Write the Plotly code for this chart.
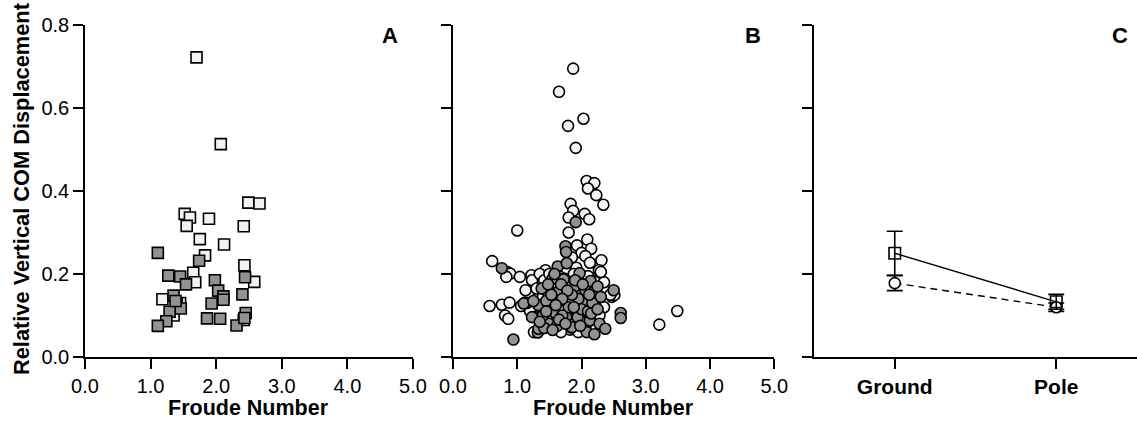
import plotly.graph_objects as go

# ---------------- Data ----------------
# Panel A (squares)
a_open_x = [1.70, 2.07, 2.49, 2.66, 1.52, 1.60, 1.55, 1.89, 2.42, 1.75, 2.12, 1.83, 2.43, 1.65, 1.68, 2.58, 1.18, 1.35, 1.45, 2.42]
a_open_y = [0.722, 0.513, 0.372, 0.370, 0.345, 0.336, 0.316, 0.333, 0.315, 0.284, 0.271, 0.245, 0.221, 0.203, 0.180, 0.181, 0.139, 0.100, 0.130, 0.089]
a_fill_x = [1.11, 1.27, 1.45, 1.54, 1.74, 1.35, 1.40, 1.46, 1.29, 1.24, 1.11, 1.98, 2.03, 2.11, 1.93, 1.86, 2.06, 2.31, 2.44, 2.40, 2.45, 2.43, 1.38, 2.11]
a_fill_y = [0.251, 0.196, 0.194, 0.175, 0.232, 0.148, 0.128, 0.117, 0.109, 0.086, 0.075, 0.185, 0.160, 0.146, 0.129, 0.093, 0.092, 0.076, 0.192, 0.151, 0.106, 0.094, 0.135, 0.138]

# Panel B (circles)
b_open_x = [1.87, 1.65, 2.03, 1.79, 1.91, 2.08, 2.20, 2.10, 2.23, 2.34, 1.83, 1.87, 1.80, 2.05, 2.12, 1.80, 1.00,
            2.09, 1.93, 2.15, 2.00, 2.06, 2.31, 2.13, 2.27, 2.28, 0.61, 0.84, 0.89, 0.83, 1.04, 1.22, 1.23, 1.13,
            1.44, 0.57, 0.76, 0.88, 0.81, 0.86, 1.06, 1.26, 3.21, 3.49, 2.47, 2.51,
            1.35, 1.42, 1.50, 1.60, 1.70, 1.80, 1.90, 1.98, 2.05, 2.15, 2.20, 2.25, 1.50, 1.40, 1.60, 1.72,
            1.82, 2.00, 2.06, 1.30, 1.55, 1.75, 1.95, 2.22, 1.45, 1.92, 1.85, 1.70, 2.35, 1.40, 2.00,
            1.30, 1.40, 1.65, 1.88, 2.10, 2.30, 2.45, 1.20, 1.15, 2.35, 2.28, 1.95, 1.68]
b_open_y = [0.695, 0.639, 0.574, 0.557, 0.504, 0.424, 0.419, 0.406, 0.390, 0.367, 0.369, 0.352, 0.336, 0.345, 0.332, 0.300, 0.305,
            0.283, 0.269, 0.261, 0.251, 0.243, 0.233, 0.227, 0.209, 0.189, 0.231, 0.205, 0.201, 0.193, 0.193, 0.197, 0.185, 0.161,
            0.209, 0.123, 0.126, 0.131, 0.100, 0.092, 0.123, 0.060, 0.078, 0.111, 0.145, 0.149,
            0.200, 0.185, 0.200, 0.140, 0.115, 0.108, 0.115, 0.125, 0.110, 0.140, 0.135, 0.150, 0.110, 0.105, 0.085, 0.070,
            0.066, 0.085, 0.070, 0.140, 0.170, 0.180, 0.180, 0.180, 0.075, 0.215, 0.240, 0.160, 0.180, 0.165, 0.150,
            0.165, 0.145, 0.195, 0.200, 0.195, 0.205, 0.150, 0.110, 0.130, 0.120, 0.100, 0.060, 0.060]
b_fill_x = [1.91, 1.75, 1.76, 0.76, 1.63, 1.77, 1.97, 1.55, 1.73, 2.14, 1.89, 1.46, 1.63, 2.06, 2.20, 2.50, 1.66, 1.12,
            1.34, 2.61, 2.61, 1.27, 1.49, 1.76, 1.94, 2.13, 2.28, 2.37, 1.32, 1.84, 2.08, 2.20, 0.94, 1.10, 1.33, 1.23,
            1.33, 1.72, 1.64, 1.67, 2.06, 1.51, 1.49, 1.85, 1.57, 1.45, 1.80, 1.95, 2.00, 1.60, 1.40, 1.85, 2.10, 1.53,
            1.70, 2.17, 1.42, 1.62,
            1.38, 1.48, 1.58, 1.68, 1.78, 1.90, 2.02, 2.25, 2.30, 1.35, 1.55, 1.65, 1.75, 1.98, 2.15, 2.25, 1.88, 1.70,
            2.12, 1.45, 1.25, 1.60]
b_fill_y = [0.325, 0.267, 0.253, 0.214, 0.218, 0.226, 0.202, 0.189, 0.189, 0.183, 0.169, 0.159, 0.157, 0.161, 0.157, 0.161, 0.138, 0.131,
            0.124, 0.106, 0.094, 0.096, 0.092, 0.096, 0.096, 0.088, 0.080, 0.068, 0.059, 0.071, 0.060, 0.055, 0.042, 0.129, 0.125, 0.096,
            0.068, 0.187, 0.157, 0.137, 0.137, 0.092, 0.080, 0.072, 0.125, 0.135, 0.120, 0.140, 0.115, 0.105, 0.100, 0.150, 0.110, 0.150,
            0.100, 0.130, 0.070, 0.075,
            0.165, 0.175, 0.200, 0.175, 0.160, 0.185, 0.175, 0.170, 0.145, 0.085, 0.065, 0.090, 0.080, 0.075, 0.105, 0.115, 0.120, 0.140,
            0.150, 0.110, 0.135, 0.125]

# Panel C (means with error bars)
c_categories = ["Ground", "Pole"]
c_square_mean = [0.250, 0.133]
c_square_err = [0.053, 0.018]
c_circle_mean = [0.178, 0.120]
c_circle_err = [0.018, 0.010]

x_ticks = [0, 1, 2, 3, 4, 5]
x_tick_labels = ["0.0", "1.0", "2.0", "3.0", "4.0", "5.0"]
y_ticks = [0, 0.2, 0.4, 0.6, 0.8]
y_tick_labels = ["0.0", "0.2", "0.4", "0.6", "0.8"]

# ---------------- Styles ----------------
FONT = "Liberation Sans, Arial, Helvetica, sans-serif"
OPEN = "#f2f2f2"
GRAY = "#929292"
mline = dict(color="black", width=1.6)

fig = go.Figure()

fig.add_trace(go.Scatter(x=a_open_x, y=a_open_y, mode="markers", xaxis="x", yaxis="y",
                         marker=dict(symbol="square", size=11, color=OPEN, line=mline), cliponaxis=False))
fig.add_trace(go.Scatter(x=a_fill_x, y=a_fill_y, mode="markers", xaxis="x", yaxis="y",
                         marker=dict(symbol="square", size=11, color=GRAY, line=mline), cliponaxis=False))

fig.add_trace(go.Scatter(x=b_open_x, y=b_open_y, mode="markers", xaxis="x2", yaxis="y2",
                         marker=dict(symbol="circle", size=11, color=OPEN, line=mline), cliponaxis=False))
fig.add_trace(go.Scatter(x=b_fill_x, y=b_fill_y, mode="markers", xaxis="x2", yaxis="y2",
                         marker=dict(symbol="circle", size=11, color=GRAY, line=mline), cliponaxis=False))

fig.add_trace(go.Scatter(x=[0, 1], y=c_circle_mean, mode="lines+markers", xaxis="x3", yaxis="y3",
                         line=dict(color="black", width=1.4, dash="7px,5px"),
                         marker=dict(symbol="circle", size=11, color="white", line=mline),
                         error_y=dict(type="data", array=c_circle_err, color="black", thickness=1.6, width=8),
                         cliponaxis=False))
fig.add_trace(go.Scatter(x=[0, 1], y=c_square_mean, mode="lines+markers", xaxis="x3", yaxis="y3",
                         line=dict(color="black", width=1.4),
                         marker=dict(symbol="square", size=11.5, color="rgba(255,255,255,0)", line=mline),
                         error_y=dict(type="data", array=c_square_err, color="black", thickness=1.6, width=8),
                         cliponaxis=False))

L, R, T, B = 85, 0, 25, 66
W, H = 1137, 423
PW = W - L - R


def dom(a, b):
    return [(a - L) / PW, (b - L) / PW]


common_x = dict(showline=True, linecolor="black", linewidth=1.5, ticks="outside", ticklen=10,
                tickwidth=1.5, tickcolor="black", showgrid=False, zeroline=False, automargin=False,
                tickfont=dict(family=FONT, size=20, color="black"))
common_y = dict(showline=True, linecolor="black", linewidth=1.5, ticks="outside", ticklen=10,
                tickwidth=1.5, tickcolor="black", showgrid=False, zeroline=False, range=[0, 0.8],
                automargin=False, tickmode="array", tickvals=y_ticks, ticktext=y_tick_labels,
                tickfont=dict(family=FONT, size=20, color="black"))

fig.update_layout(
    template="none",
    width=W, height=H, autosize=False,
    margin=dict(l=L, r=R, t=T, b=B, pad=0),
    plot_bgcolor="white", paper_bgcolor="white",
    showlegend=False,
    xaxis=dict(common_x, domain=dom(85, 413), range=[0, 5], tickmode="array",
               tickvals=x_ticks, ticktext=x_tick_labels, anchor="y"),
    yaxis=dict(common_y, domain=[0, 1], anchor="x"),
    xaxis2=dict(common_x, domain=dom(453, 774.3), range=[0, 5], tickmode="array",
                tickvals=x_ticks, ticktext=x_tick_labels, anchor="y2"),
    yaxis2=dict(common_y, domain=[0, 1], anchor="x2", showticklabels=False),
    xaxis3=dict(common_x, domain=dom(814, 1137), range=[-0.5, 1.5], tickmode="array",
                tickvals=[0, 1], ticktext=c_categories,
                tickfont=dict(family=FONT, size=21, color="black", weight="bold"), anchor="y3"),
    yaxis3=dict(common_y, domain=[0, 1], anchor="x3", showticklabels=False),
)

def px_x(p):
    return (p - L) / PW

def px_y(p):
    return (H - B - p) / (H - T - B)

ann = [
    dict(text="Froude Number", x=px_x(248), y=px_y(408), size=21.5),
    dict(text="Froude Number", x=px_x(613), y=px_y(408), size=21.5),
    dict(text="Relative Vertical COM Displacement", x=px_x(21), y=px_y(189), textangle=-90, size=21.8),
]
for a in ann:
    sz = a.pop("size")
    fig.add_annotation(xref="paper", yref="paper", xanchor="center", yanchor="middle",
                       showarrow=False, font=dict(family=FONT, size=sz, color="black", weight="bold"), **a)

for label, xp in [("A", 390), ("B", 753), ("C", 1120)]:
    fig.add_annotation(xref="paper", yref="paper", x=px_x(xp), y=px_y(36), xanchor="center",
                       yanchor="middle", showarrow=False, text=label,
                       font=dict(family=FONT, size=22, color="black", weight="bold"))

fig.write_html("out.html", config={"displayModeBar": False, "responsive": False},
               post_script="document.body.style.margin='0';document.body.style.overflow='hidden';")
